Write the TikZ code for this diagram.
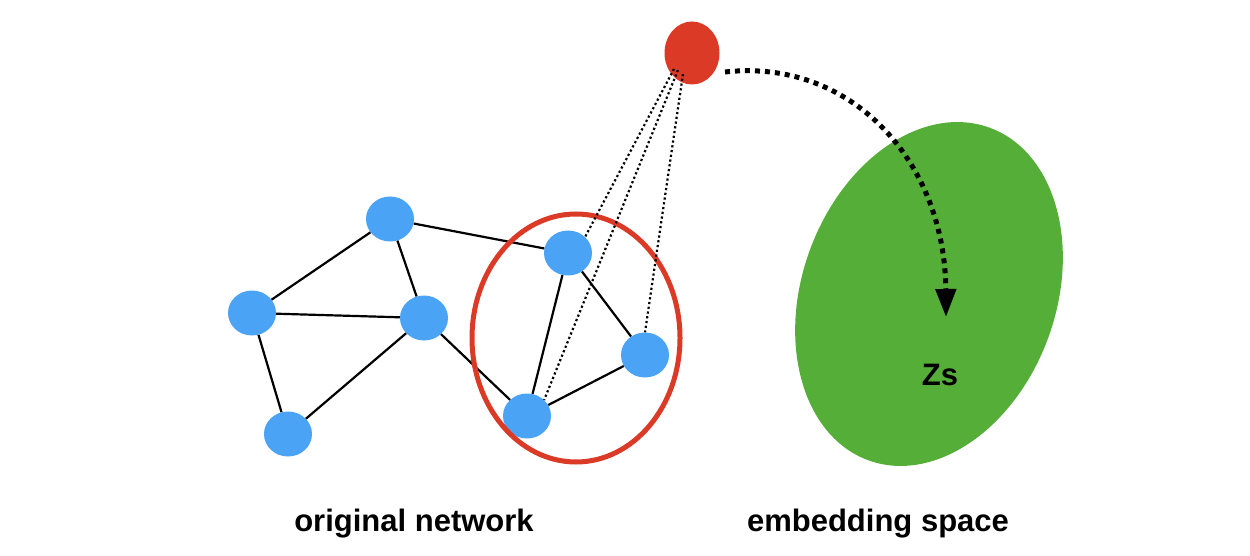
\documentclass[tikz,border=0pt]{standalone}
\usepackage{fontspec}
\setmainfont{Liberation Sans}
\usetikzlibrary{shapes.geometric,arrows.meta}
\definecolor{nodeblue}{RGB}{74,163,245}
\definecolor{ringred}{RGB}{219,59,38}
\definecolor{spacegreen}{RGB}{85,174,55}
\tikzset{
  vtx/.style={ellipse,fill=nodeblue,minimum width=48pt,minimum height=45pt,inner sep=0pt},
  edge/.style={line width=2.2pt,black},
  probe/.style={line width=2.2pt,black,dash pattern=on 2.2pt off 2.6pt},
  lbl/.style={font=\bfseries\fontsize{31}{36}\selectfont,anchor=base}
}
\begin{document}
\begin{tikzpicture}[x=1pt,y=-1pt]
\useasboundingbox (0,0) rectangle (1250,556);
% embedding space
\fill[spacegreen,rotate around={-20:(929,294)}] (929,294) ellipse [x radius=127, y radius=177];
% network nodes
\node[vtx] (a) at (390,219) {};
\node[vtx] (b) at (252,313) {};
\node[vtx] (c) at (424,318) {};
\node[vtx] (d) at (288,434) {};
\node[vtx] (e) at (568,253) {};
\node[vtx] (f) at (645,355) {};
\node[vtx] (g) at (527,416) {};
% red node
\node[ellipse,fill=ringred,minimum width=55pt,minimum height=63pt,inner sep=0pt] (r) at (692,53) {};
% edges
\draw[edge] (a) -- (b);
\draw[edge] (a) -- (c);
\draw[edge] (a) -- (e);
\draw[edge] (b) -- (c);
\draw[edge] (b) -- (d);
\draw[edge] (d) -- (c);
\draw[edge] (c) -- (g);
\draw[edge] (e) -- (g);
\draw[edge] (e) -- (f);
\draw[edge] (g) -- (f);
% ring
\node[ellipse,draw=ringred,line width=5pt,minimum width=208pt,minimum height=248pt,inner sep=0pt] (ring) at (576,338) {};
% dotted probes
\coordinate (r1) at (674,69);
\coordinate (r2) at (678,70);
\coordinate (r3) at (683,74);
\draw[probe] (r1) -- (e.north east);
\draw[probe] (r2) -- (g.north east);
\draw[probe] (r3) -- (f.north);
% embedding arrow
\coordinate (s) at (725,72);
\coordinate (t) at (946,317);
\draw[line width=5pt,dash pattern=on 5pt off 5pt,-{Triangle[width=20pt,length=28pt]}] (s) .. controls (850,58) and (945,160) .. (t);
% labels
\node[lbl] (zs) at (940,385) {Zs};
\node[lbl] (l1) at (414,531) {original network};
\node[lbl] (l2) at (878,531) {embedding space};
\end{tikzpicture}
\end{document}
